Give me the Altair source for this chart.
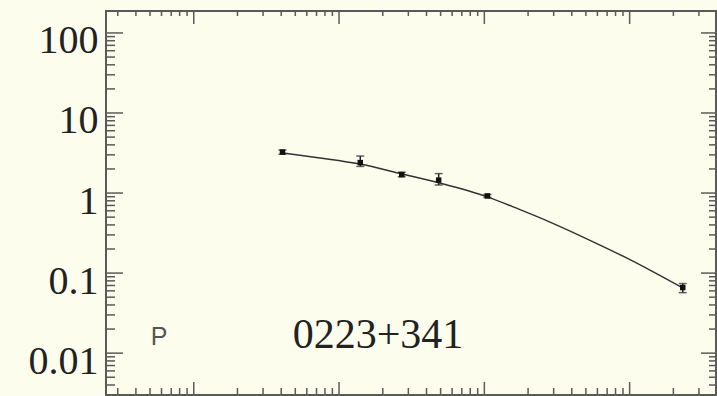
import altair as alt
import pandas as pd

# ---- data ----
freq = [0.408, 1.4, 2.7, 4.85, 10.5, 232]
flux = [3.25, 2.4, 1.7, 1.45, 0.92, 0.066]
flux_lo = [3.05, 2.15, 1.6, 1.26, 0.88, 0.057]
flux_hi = [3.45, 2.9, 1.82, 1.75, 0.96, 0.074]

fit_freq = [0.412, 0.74, 1.39, 2.71, 4.95, 10.6, 17.6, 28.3, 62.5, 93, 138, 233]
fit_flux = [3.16, 2.74, 2.30, 1.73, 1.33, 0.89, 0.62, 0.434, 0.224, 0.158, 0.109, 0.065]

y_major = [0.01, 0.1, 1, 10, 100]
x_major = [0.1, 1, 10, 100]
labels_text = ["P", "0223+341"]

X_DOM = [0.0249, 393]
Y_DOM = [0.003, 188]

y_minor = [m * 10.0 ** e for e in range(-3, 3) for m in range(2, 10)
           if Y_DOM[0] <= m * 10.0 ** e <= Y_DOM[1]]
x_minor = [m * 10.0 ** e for e in range(-2, 3) for m in range(2, 10)
           if X_DOM[0] <= m * 10.0 ** e <= X_DOM[1]]

W, H = 610, 384
AX = "#5a5a58"
BG = "#fdfdee"

xs = alt.Scale(type="log", domain=X_DOM, nice=False)
ys = alt.Scale(type="log", domain=Y_DOM, nice=False)

pts = pd.DataFrame({"f": freq, "s": flux, "lo": flux_lo, "hi": flux_hi})
fit = pd.DataFrame({"f": fit_freq, "s": fit_flux})

yaxis = alt.Axis(values=y_major, format="~g", ticks=False, domain=False, grid=False,
                 labelFont="Liberation Serif", labelFontSize=40, labelColor="#222222",
                 labelPadding=8, labelOffset=8, labelFlush=False, labelBound=False,
                 labelOverlap=False, title=None)


def Y(field):
    return alt.Y(field, scale=ys, axis=yaxis)


def X(field):
    return alt.X(field, scale=xs, axis=None)


# inward tick marks
def yt(vals, x0, x1):
    return alt.Chart(pd.DataFrame({"v": vals})).mark_rule(color=AX, strokeWidth=1.5).encode(
        y=Y("v:Q"), x=alt.value(x0), x2=alt.value(x1))


def xt(vals, y0, y1):
    return alt.Chart(pd.DataFrame({"v": vals})).mark_rule(color=AX, strokeWidth=1.5).encode(
        x=X("v:Q"), y=alt.value(y0), y2=alt.value(y1))


ticks = [
    yt(y_major, 0, 17), yt(y_minor, 0, 9),
    yt(y_major, W, W - 15), yt(y_minor, W, W - 7),
    xt(x_major, H, H - 13), xt(x_minor, H, H - 7),
    xt(x_major, 0, 13), xt(x_minor, 0, 5),
]

curve = alt.Chart(fit).mark_line(color="#333333", strokeWidth=1.5, interpolate="monotone").encode(
    x=X("f:Q"), y=Y("s:Q"))

err = alt.Chart(pts).mark_rule(color="#222222", strokeWidth=1.5).encode(
    x=X("f:Q"), y=Y("lo:Q"), y2="hi:Q")
cap_lo = alt.Chart(pts).mark_tick(orient="horizontal", size=8, thickness=1.5, color="#222222").encode(
    x=X("f:Q"), y=Y("lo:Q"))
cap_hi = alt.Chart(pts).mark_tick(orient="horizontal", size=8, thickness=1.5, color="#222222").encode(
    x=X("f:Q"), y=Y("hi:Q"))
dots = alt.Chart(pts).mark_square(size=30, color="#111111", opacity=1).encode(
    x=X("f:Q"), y=Y("s:Q"))

txt_p = alt.Chart(pd.DataFrame({"t": [labels_text[0]]})).mark_text(
    font="Liberation Sans", fontSize=25, color="#555555", align="center", baseline="alphabetic"
).encode(text="t:N", x=alt.value(53), y=alt.value(334))
txt_name = alt.Chart(pd.DataFrame({"t": [labels_text[1]]})).mark_text(
    font="Liberation Serif", fontSize=42, color="#222222", align="center", baseline="alphabetic"
).encode(text="t:N", x=alt.value(272), y=alt.value(337))

chart = alt.layer(*ticks, curve, err, cap_lo, cap_hi, dots, txt_p, txt_name).properties(
    width=W, height=H,
    padding={"left": 106, "top": 11, "right": 1, "bottom": 1},
    autosize="none", background=BG,
).configure_view(stroke=AX, strokeWidth=2)

chart.save("out.html", embed_options={"renderer": "svg", "actions": False})
